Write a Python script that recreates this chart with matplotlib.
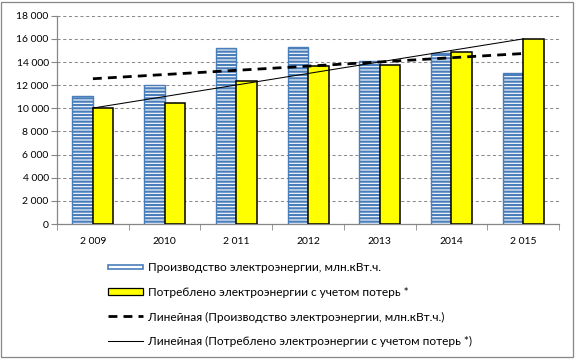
import numpy as np
import matplotlib.pyplot as plt
from matplotlib.patches import Rectangle
from matplotlib.lines import Line2D
from matplotlib.legend_handler import HandlerPatch

plt.rcParams["font.family"] = ["Lato", "DejaVu Sans"]
plt.rcParams["hatch.linewidth"] = 1.6

# данные
years = ["2 009", "2010", "2 011", "2012", "2013", "2014", "2 015"]
production = [11100, 12050, 15200, 15270, 14120, 14750, 13050]
consumption = [10050, 10500, 12350, 13630, 13720, 14840, 16000]

label_prod = "Производство электроэнергии, млн.кВт.ч."
label_cons = "Потреблено электроэнергии с учетом потерь *"
label_trend_prod = "Линейная (Производство электроэнергии, млн.кВт.ч.)"
label_trend_cons = "Линейная (Потреблено электроэнергии с учетом потерь *)"

yticks = list(range(0, 18001, 2000))

#%%
x = np.arange(len(years))
w = 0.286

fig = plt.figure(figsize=(5.76, 3.59), dpi=100)
ax = fig.add_axes([0.099, 0.376, 0.8715, 0.580])

ax.bar(x - w/2, production, width=w, facecolor="white",
       edgecolor="#4A7EBB", hatch="-----", linewidth=1.0, zorder=3)
ax.bar(x + w/2, consumption, width=w, facecolor="#FFFF00",
       edgecolor="black", linewidth=1.1, zorder=3)

# линии тренда
k1, b1 = np.polyfit(x, production, 1)
k2, b2 = np.polyfit(x, consumption, 1)
ax.plot(x, k1*x + b1, color="black", linestyle=(0, (3.2, 2.2)),
        linewidth=2.0, zorder=4)
ax.plot(x, k2*x + b2, color="black", linewidth=0.75, zorder=4)

ax.set_xlim(-0.5, len(years) - 0.5)
ax.set_ylim(0, 18000)
ax.set_yticks(yticks)
ax.set_yticklabels([f"{v:,}".replace(",", " ") for v in yticks], fontsize=7.5)
ax.set_xticks(x)
ax.set_xticklabels(years, fontsize=7.5)
ax.set_xticks(np.arange(-0.5, len(years)), minor=True)
ax.tick_params(axis="x", which="major", length=0, pad=9)
ax.tick_params(axis="x", which="minor", length=4, color="#868686")
ax.tick_params(axis="y", length=4, color="#868686", pad=2)

ax.grid(axis="y", color="#8C8C8C", linestyle=(0, (3, 2.5)), linewidth=0.75)
ax.set_axisbelow(True)
for s in ["top", "right"]:
    ax.spines[s].set_visible(False)
for s in ["left", "bottom"]:
    ax.spines[s].set_color("#868686")
    ax.spines[s].set_linewidth(0.9)

#%%
# легенда
def make_bar_handle(legend, orig_handle, xdescent, ydescent, width, height, fontsize):
    h = orig_handle.get_height()
    return Rectangle((-xdescent, -ydescent + (height - h*height)/2),
                     width, h*height)

h_prod = Rectangle((0, 0), 1, 0.45, facecolor="white", edgecolor="#4A7EBB", linewidth=1.2)
h_cons = Rectangle((0, 0), 1, 0.8, facecolor="#FFFF00", edgecolor="black", linewidth=0.9)
h_tp = Line2D([], [], color="black", linestyle=(0, (3.2, 2.2)), linewidth=2.0)
h_tc = Line2D([], [], color="black", linewidth=0.75)

fig.legend([h_prod, h_cons, h_tp, h_tc],
           [label_prod, label_cons, label_trend_prod, label_trend_cons],
           loc="upper left", bbox_to_anchor=(0.1875, 0.27), frameon=False,
           fontsize=8.6, handlelength=2.9, handleheight=0.7, handletextpad=0.45,
           labelspacing=1.15, borderaxespad=0, borderpad=0,
           handler_map={Rectangle: HandlerPatch(patch_func=make_bar_handle)})

fig.patches.append(Rectangle((0.002, 0.005), 0.993, 0.99, transform=fig.transFigure,
                             fill=False, edgecolor="#868686", linewidth=0.9))

plt.savefig("out.png", dpi=100)
